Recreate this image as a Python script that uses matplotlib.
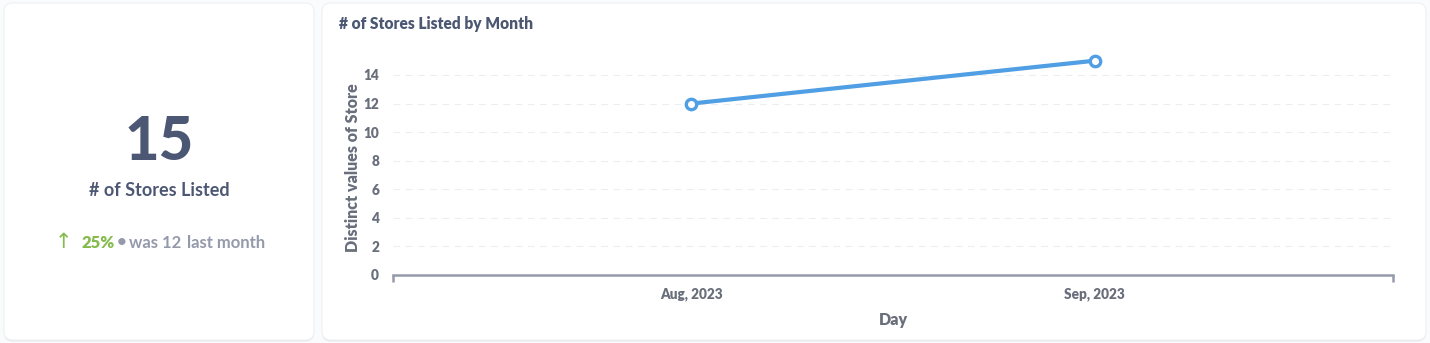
import matplotlib
matplotlib.use("Agg")
import matplotlib.pyplot as plt
from matplotlib.patches import FancyBboxPatch

# ---- data ----
months = ["Aug, 2023", "Sep, 2023"]
stores = [12, 15]
y_ticks = [0, 2, 4, 6, 8, 10, 12, 14]
kpi_value = "15"
kpi_label = "# of Stores Listed"
kpi_change = "25%"
kpi_prev = "was 12"
kpi_period = "last month"
chart_title = "# of Stores Listed by Month"
x_label = "Day"
y_label = "Distinct values of Store"

W, H = 1430, 343
DPI = 100
plt.rcParams['font.family'] = ['Lato', 'DejaVu Sans']
plt.rcParams['font.weight'] = 'bold'

fig = plt.figure(figsize=(W / DPI, H / DPI), dpi=DPI)
fig.patch.set_facecolor('#f9fbfc')

def fx(x):
    return x / W

def fy(y):
    return 1 - y / H

def card(x0, y0, x1, y1):
    sh = FancyBboxPatch((fx(x0), fy(y1 + 1.5)), fx(x1 - x0), (y1 - y0) / H,
                        boxstyle="round,pad=0,rounding_size=0.006",
                        transform=fig.transFigure, facecolor='#e6e9ee',
                        edgecolor='none', zorder=-2, mutation_aspect=W / H)
    fig.patches.append(sh)
    p = FancyBboxPatch((fx(x0), fy(y1)), fx(x1 - x0), (y1 - y0) / H,
                       boxstyle="round,pad=0,rounding_size=0.006",
                       transform=fig.transFigure, facecolor='white',
                       edgecolor='#eef0f3', linewidth=0.8, zorder=-1,
                       mutation_aspect=W / H)
    fig.patches.append(p)

card(4, 3, 314, 340)
card(322, 3, 1426, 340)

# ---- KPI card ----
dark = '#4c5773'
grey = '#949aab'
green = '#84bb4c'
fig.text(fx(159), fy(142), kpi_value, ha='center', va='center',
         fontsize=43, fontweight='black', color=dark)
fig.text(fx(159), fy(190), kpi_label, ha='center', va='center',
         fontsize=13, fontweight='bold', color=dark)
fig.text(fx(55), fy(242), "\u2191", ha='left', va='center',
         fontsize=15, color=green, fontweight='normal', family=['DejaVu Sans'])
fig.text(fx(81), fy(243), kpi_change, ha='left', va='center',
         fontsize=12, fontweight='heavy', color=green)
fig.text(fx(117), fy(242), "\u2022", ha='left', va='center',
         fontsize=12, color=grey)
fig.text(fx(129), fy(243), kpi_prev, ha='left', va='center',
         fontsize=12, fontweight='bold', color=grey)
fig.text(fx(187), fy(243), kpi_period, ha='left', va='center',
         fontsize=12, fontweight='bold', color=grey)

# ---- chart card ----
fig.text(fx(339), fy(24), chart_title, ha='left', va='center',
         fontsize=11.2, fontweight='heavy', color=dark)

ax_left, ax_right = 393, 1393
ax_bottom, ax_top = 275, 275 - 15 * (200 / 14)
ax = fig.add_axes([fx(ax_left), fy(ax_bottom), fx(ax_right - ax_left),
                   (ax_bottom - ax_top) / H])
ax.set_zorder(2)
ax.set_facecolor('none')
xs = list(range(len(months)))
ax.plot(xs, stores, color='#509ee3', linewidth=3.0, marker='o',
        markersize=7.5, markerfacecolor='white', markeredgecolor='#509ee3',
        markeredgewidth=2.4, zorder=5, clip_on=False)
pad = 0.74
ax.set_xlim(-pad, len(months) - 1 + pad)
ax.set_ylim(0, 15)
ax.set_xticks(xs)
ax.set_xticklabels(months, fontweight='heavy')
ax.set_xticks([-pad, len(months) - 1 + pad], minor=True)
ax.set_yticks(y_ticks)
ax.set_yticklabels([str(v) for v in y_ticks], fontweight='heavy')
for sp in ['top', 'right', 'left']:
    ax.spines[sp].set_visible(False)
ax.spines['bottom'].set_color('#949aab')
ax.spines['bottom'].set_linewidth(1.8)
ax.tick_params(axis='x', which='major', length=0, pad=9, labelsize=9.8,
               labelcolor='#696e7b')
ax.tick_params(axis='x', which='minor', length=5, width=1.8, color='#949aab')
ax.tick_params(axis='y', length=0, pad=10, labelsize=9.8, labelcolor='#696e7b')
for t in y_ticks[1:]:
    ax.axhline(t, color='#ebedf0', linewidth=0.8, linestyle=(0, (6, 5)),
               zorder=1)
ax.set_xlabel(x_label, fontsize=11.5, fontweight='heavy', color='#696e7b',
              labelpad=8)
ax.set_ylabel(y_label, fontsize=11.5, fontweight='heavy', color='#696e7b',
              labelpad=2)

fig.savefig('out.png', dpi=DPI, facecolor=fig.get_facecolor())
